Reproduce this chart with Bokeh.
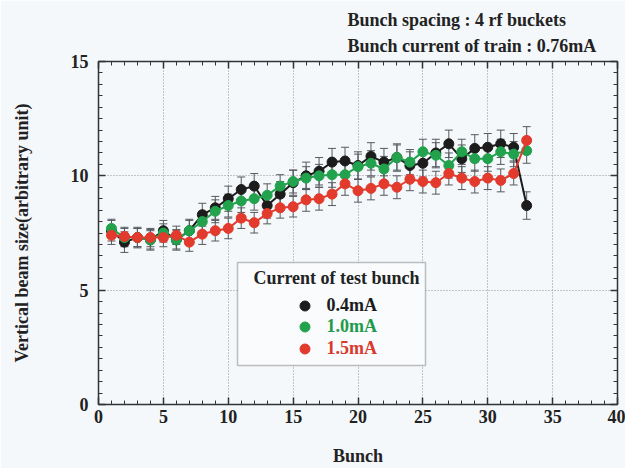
from bokeh.plotting import figure
from bokeh.models import (ColumnDataSource, Whisker, TeeHead, LinearAxis, FixedTicker,
                          Legend, LegendItem, Label, BoxAnnotation, Title, CustomLabelingPolicy)
from bokeh.embed import file_html
from bokeh.resources import INLINE

# ---------------- data ----------------
bunch = list(range(1, 34))
size_04 = [7.6, 7.1, 7.3, 7.2, 7.6, 7.2, 7.6, 8.3, 8.6, 9.0, 9.4, 9.55, 8.7, 9.2, 9.7, 10.0, 10.2,
           10.6, 10.65, 10.45, 10.85, 10.6, 10.8, 10.45, 10.55, 11.0, 11.4, 10.75, 11.2, 11.25, 11.4, 11.25, 8.7]
size_10 = [7.7, 7.3, 7.3, 7.2, 7.5, 7.2, 7.6, 8.0, 8.45, 8.7, 8.9, 9.0, 9.15, 9.55, 9.75, 9.9, 10.0,
           10.05, 10.05, 10.4, 10.55, 10.3, 10.8, 10.6, 11.05, 10.9, 10.45, 11.05, 10.75, 10.75, 11.05, 10.95, 11.1]
size_15 = [7.4, 7.35, 7.3, 7.3, 7.3, 7.4, 7.1, 7.45, 7.6, 7.7, 8.15, 7.95, 8.35, 8.6, 8.65, 8.95, 9.0,
           9.2, 9.65, 9.35, 9.45, 9.65, 9.5, 9.85, 9.75, 9.7, 10.1, 9.9, 9.75, 9.9, 9.8, 10.1, 11.55]
err_04 = [0.45, 0.45, 0.45, 0.45, 0.45, 0.45, 0.5, 0.5, 0.5, 0.55, 0.55, 0.55, 0.55, 0.55, 0.55, 0.6, 0.6,
          0.6, 0.6, 0.6, 0.6, 0.6, 0.6, 0.6, 0.6, 0.6, 0.6, 0.6, 0.6, 0.6, 0.6, 0.6, 0.6]
err_10 = [0.4, 0.4, 0.4, 0.4, 0.4, 0.4, 0.45, 0.45, 0.5, 0.5, 0.5, 0.5, 0.5, 0.5, 0.5, 0.5, 0.5,
          0.55, 0.55, 0.55, 0.55, 0.55, 0.55, 0.55, 0.55, 0.55, 0.55, 0.55, 0.55, 0.55, 0.55, 0.55, 0.55]
err_15 = [0.4, 0.4, 0.4, 0.4, 0.4, 0.4, 0.4, 0.45, 0.45, 0.45, 0.45, 0.45, 0.45, 0.45, 0.45, 0.5, 0.5,
          0.5, 0.5, 0.5, 0.5, 0.5, 0.5, 0.5, 0.5, 0.5, 0.5, 0.5, 0.5, 0.5, 0.5, 0.5, 0.6]
series_labels = ["0.4mA", "1.0mA", "1.5mA"]
header_lines = ["Bunch spacing : 4 rf buckets", "Bunch current of train : 0.76mA"]
x_major = [0, 5, 10, 15, 20, 25, 30, 35, 40]
x_minor = list(range(0, 41))
y_major = [0, 5, 10, 15]
y_minor = [i * 0.5 for i in range(0, 31)]

# ---------------- style ----------------
BG = "#f5f8fb"
INK = "#222222"
FONT = "Liberation Serif"
COLORS = ["#1c1c1c", "#22a24c", "#e23a2c"]
TEXT_COLORS = ["#1c1c1c", "#1f9a4a", "#d8392c"]

p = figure(width=625, height=468, x_range=(0, 40), y_range=(0, 15),
           output_backend="svg", toolbar_location=None,
           min_border_left=98, min_border_right=8, min_border_top=61, min_border_bottom=62,
           background_fill_color=BG, border_fill_color=BG, outline_line_color=None)

xt = FixedTicker(ticks=x_major, minor_ticks=x_minor)
yt = FixedTicker(ticks=y_major, minor_ticks=y_minor)

for ax, t in ((p.xaxis[0], xt), (p.yaxis[0], yt)):
    ax.ticker = t
    ax.axis_line_color = "#333333"
    ax.axis_line_width = 1.5
    ax.major_tick_in = 7
    ax.major_tick_out = 0
    ax.minor_tick_in = 4
    ax.minor_tick_out = 0
    ax.major_tick_line_color = "#333333"
    ax.minor_tick_line_color = "#333333"
    ax.major_tick_line_width = 1.5
    ax.major_label_text_font = FONT
    ax.major_label_text_font_style = "bold"
    ax.major_label_text_font_size = "18px"
    ax.major_label_text_color = INK
    ax.axis_label_text_font = FONT
    ax.axis_label_text_font_style = "bold"
    ax.axis_label_text_font_size = "18px"
    ax.axis_label_text_color = INK

p.xaxis.axis_label = "Bunch"
p.yaxis.axis_label = "Vertical beam size(arbitrary unit)"
p.xaxis.major_label_standoff = 5
p.xaxis.axis_label_standoff = 20
p.yaxis.major_label_standoff = 10
p.yaxis.axis_label_standoff = 36

no_labels = CustomLabelingPolicy(code="for (const i of indices) { indices.unset(i) }\nreturn indices")
for side, t in (("right", yt), ("above", xt)):
    ax = LinearAxis(ticker=t, major_label_text_font_size="1px", major_label_standoff=0,
                    major_label_policy=no_labels,
                    axis_line_color="#333333", axis_line_width=1.5,
                    major_tick_in=7, major_tick_out=0, minor_tick_in=4, minor_tick_out=0,
                    major_tick_line_color="#333333", minor_tick_line_color="#333333",
                    major_tick_line_width=1.5)
    p.add_layout(ax, side)

# header lines (inner line added first, so it sits closest to the frame)
for txt, so in ((header_lines[1], 4), (header_lines[0], 3)):
    p.add_layout(Title(text=txt, align="left", offset=249, standoff=so,
                       text_font=FONT, text_font_style="bold", text_font_size="18px",
                       text_color=INK), "above")

p.xgrid.ticker = xt
p.ygrid.ticker = yt
for g in (p.xgrid[0], p.ygrid[0]):
    g.grid_line_color = "#8c9096"
    g.grid_line_dash = "1 2"
    g.grid_line_width = 1

# ---------------- series ----------------
renderers = []
for vals, errs, col in ((size_04, err_04, COLORS[0]), (size_10, err_10, COLORS[1]), (size_15, err_15, COLORS[2])):
    src = ColumnDataSource(dict(x=bunch, y=vals,
                                lo=[v - e for v, e in zip(vals, errs)],
                                hi=[v + e for v, e in zip(vals, errs)]))
    w = Whisker(source=src, base="x", upper="hi", lower="lo", dimension="height",
                line_color="#555a5e", line_width=1,
                upper_head=TeeHead(size=8, line_color="#555a5e", line_width=1),
                lower_head=TeeHead(size=8, line_color="#555a5e", line_width=1))
    w.level = "underlay"
    p.add_layout(w)
    p.line("x", "y", source=src, line_color=col, line_width=2)
    r = p.scatter("x", "y", source=src, size=10, fill_color=col, line_color=col)
    renderers.append(r)

# ---------------- legend ----------------
box = BoxAnnotation(left=139, right=327, top=142, bottom=39,
                    left_units="screen", right_units="screen", top_units="screen", bottom_units="screen",
                    fill_color="#f9fbfd", fill_alpha=1.0, line_color="#333333", line_width=1.5)
p.add_layout(box)
p.add_layout(Label(x=238, y=127, x_units="screen", y_units="screen", text="Current of test bunch",
                   text_font=FONT, text_font_style="bold", text_font_size="18px", text_color=INK,
                   text_align="center", text_baseline="middle"))

legend_bottoms = [86.5, 65, 43.5]
for r, lab, tc, yb in zip(renderers, series_labels, TEXT_COLORS, legend_bottoms):
    lg = Legend(items=[LegendItem(label=lab, renderers=[r])], location=(193.5, yb),
                glyph_width=25, glyph_height=25, padding=0, margin=0, label_standoff=10,
                border_line_color=None, background_fill_alpha=0,
                label_text_font=FONT, label_text_font_style="bold", label_text_font_size="18px",
                label_text_color=tc, label_height=25)
    p.add_layout(lg)

open("out.html", "w").write(file_html(p, INLINE))
